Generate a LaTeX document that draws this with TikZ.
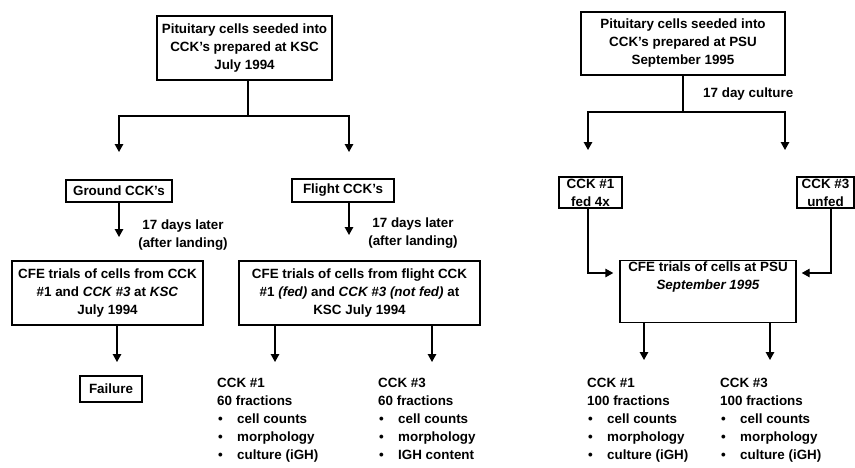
\documentclass[tikz,border=0pt]{standalone}
\usepackage{fontspec}
\setmainfont{Liberation Sans}
\usetikzlibrary{arrows.meta}
\tikzset{
  box/.style={draw, line width=1.4pt, rectangle, inner sep=0pt, align=center, font=\txt},
  lbl/.style={inner sep=0pt, align=center, font=\txt},
  lst/.style={inner sep=0pt, align=left, anchor=north west, font=\txt},
  ln/.style={line width=1.4pt},
  arr/.style={line width=1.4pt, -{Triangle[width=8.5pt,length=8pt]}},
}
\newcommand{\txt}{\fontsize{13.4}{18}\selectfont\bfseries}
\newcommand{\itm}{\makebox[20pt][l]{\hspace{1pt}\textbullet}}
\begin{document}
\begin{tikzpicture}[x=1pt,y=-1pt]
\useasboundingbox (0,0) rectangle (855,467);

% ---------- left tree ----------
\node[box, minimum width=175pt, minimum height=64pt] (tl) at (244.5,48)
  {Pituitary cells seeded into\\CCK's prepared at KSC\\July 1994};
\node[box, minimum width=106pt, minimum height=22pt] (gr) at (119,191) {Ground CCK's};
\node[box, minimum width=102pt, minimum height=23pt] (fl) at (343,190.5) {Flight CCK's};
\node[box, minimum width=191pt, minimum height=64pt] (cg) at (107.5,293)
  {CFE trials of cells from CCK\\\#1 and \textit{CCK \#3} at \textit{KSC}\\July 1994};
\node[box, minimum width=241pt, minimum height=64pt] (cf) at (359.5,293)
  {CFE trials of cells from flight CCK\\\#1 \textit{(fed)} and \textit{CCK \#3 (not fed)} at\\KSC July 1994};
\node[box, minimum width=62pt, minimum height=26pt] (fail) at (111,389) {Failure};

\node[lbl] (l1) at (183,235) {17 days later\\(after landing)};
\node[lbl] (l2) at (413,233) {17 days later\\(after landing)};

\node[lst] (c1) at (217,378) {CCK \#1\\60 fractions\\\itm cell counts\\\itm morphology\\\itm culture (iGH)};
\node[lst] (c3) at (378,378) {CCK \#3\\60 fractions\\\itm cell counts\\\itm morphology\\\itm IGH content};

\coordinate (jl) at (248,116);
\coordinate (ga) at (119,152);
\coordinate (fa) at (349,152);
\coordinate (ga2) at (119,237);
\coordinate (fa2) at (349,235);
\coordinate (ca) at (117,362);
\coordinate (cb) at (275,362);
\coordinate (cc) at (432,362);

\draw[ln] (jl |- tl.south) -- (jl);
\draw[arr] (jl) -| (ga);
\draw[arr] (jl) -| (fa);
\draw[arr] (gr.south) -- (ga2);
\draw[arr] (fa2 |- fl.south) -- (fa2);
\draw[arr] (ca |- cg.south) -- (ca);
\draw[arr] (cb |- cf.south) -- (cb);
\draw[arr] (cc |- cf.south) -- (cc);

% ---------- right tree ----------
\node[box, minimum width=204pt, minimum height=63pt] (tr) at (683,43.5)
  {Pituitary cells seeded into\\CCK's prepared at PSU\\September 1995};
\node[lbl, anchor=west] (l3) at (703,94) {17 day culture};
\node[box, minimum width=63pt, minimum height=31pt] (k1) at (590.5,192.5) {CCK \#1\\fed 4x};
\node[box, minimum width=57pt, minimum height=31pt] (k3) at (825.5,192.5) {CCK \#3\\unfed};
\node[box, minimum width=176pt, minimum height=62pt, anchor=north] (cp) at (708,260) {};
\node[lbl, anchor=north] (cpt) at (708,262) {CFE trials of cells at PSU\\\textit{September 1995}};

\node[lst] (d1) at (587,378) {CCK \#1\\100 fractions\\\itm cell counts\\\itm morphology\\\itm culture (iGH)};
\node[lst] (d3) at (720,378) {CCK \#3\\100 fractions\\\itm cell counts\\\itm morphology\\\itm culture (iGH)};

\coordinate (jr) at (683,112);
\coordinate (ra) at (588,150);
\coordinate (rb) at (785,150);
\coordinate (k1b) at (588,273);
\coordinate (k3b) at (831,273);
\coordinate (pa) at (644,360);
\coordinate (pb) at (770,360);

\draw[ln] (tr.south) -- (jr);
\draw[arr] (jr) -| (ra);
\draw[arr] (jr) -| (rb);
\draw[arr] (k1b |- k1.south) -- (k1b) -- ([xshift=-6pt]k1b -| cp.west);
\draw[arr] (k3b |- k3.south) -- (k3b) -- ([xshift=5pt]k3b -| cp.east);
\draw[arr] (pa |- cp.south) -- (pa);
\draw[arr] (pb |- cp.south) -- (pb);
\end{tikzpicture}
\end{document}
